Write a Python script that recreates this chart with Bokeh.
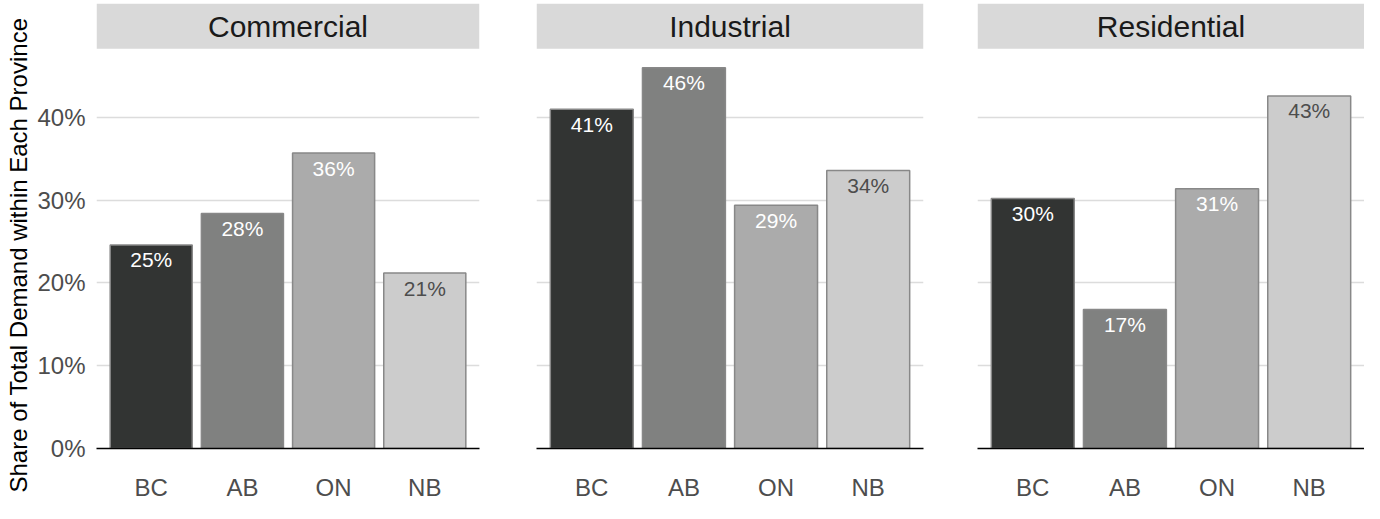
from bokeh.plotting import figure
from bokeh.layouts import row
from bokeh.models import (ColumnDataSource, FactorRange, Range1d, FixedTicker,
                          PrintfTickFormatter, Title, BoxAnnotation, Label)
from bokeh.core.properties import value
from bokeh.embed import file_html
from bokeh.resources import INLINE

# ---- data ----
panels = ["Commercial", "Industrial", "Residential"]
provinces = ["BC", "AB", "ON", "NB"]
commercial = [24.6, 28.4, 35.7, 21.2]
industrial = [41.0, 46.0, 29.4, 33.6]
residential = [30.2, 16.8, 31.4, 42.6]
y_ticks = [0, 10, 20, 30, 40]
y_title = "Share of Total Demand within Each Province"

# ---- styles / layout ----
FONT = "Liberation Sans"
bar_fills = ["#323433", "#808180", "#ababab", "#cccccc"]
label_colors = ["white", "white", "white", "#4d4d4d"]
series = [commercial, industrial, residential]

borders = [(92, 28), (29, 15), (39, 0)]   # (left, right) borders per panel
FRAME_W = 387
PANEL_H = 406      # height of the bar area (below strip)
STRIP_H = 46
TOP_B = 3
BOT_B = 48

Y_MAX = max(max(s) for s in series) * 1.05
Y_END = Y_MAX * (PANEL_H + STRIP_H) / PANEL_H

figs = []
for i, (name, vals) in enumerate(zip(panels, series)):
    bl, br = borders[i]
    W = bl + FRAME_W + br
    H = TOP_B + PANEL_H + STRIP_H + BOT_B

    src = ColumnDataSource(dict(
        prov=provinces, val=vals, fill=bar_fills, lc=label_colors,
        lab=[f"{int(v + 0.5)}%" for v in vals]))
    p = figure(width=W, height=H,
               x_range=FactorRange(*provinces, range_padding=0.05),
               y_range=Range1d(0, Y_END),
               toolbar_location=None, output_backend="svg", min_border=0,
               y_axis_location="left" if i == 0 else None)
    p.min_border_left = bl
    p.min_border_right = br
    p.min_border_top = TOP_B
    p.min_border_bottom = BOT_B
    p.outline_line_color = None
    p.background_fill_color = "white"

    # facet strip
    p.add_layout(BoxAnnotation(bottom=Y_MAX, fill_color="#d9d9d9", fill_alpha=1.0,
                               line_color=None, level="underlay"))
    p.add_layout(Label(x=len(provinces) / 2, y=(Y_MAX + Y_END) / 2, text=name,
                       text_align="center", text_baseline="middle",
                       text_font=FONT, text_font_size="30px", text_color="#1a1a1a"))

    p.xgrid.visible = False
    p.ygrid.ticker = FixedTicker(ticks=y_ticks)
    p.ygrid.grid_line_color = "#dcdcdc"
    p.ygrid.grid_line_width = 1.6

    p.vbar(x="prov", top="val", bottom=0, width=0.9, source=src,
           fill_color="fill", line_color="#888888", line_width=1.5)
    p.text(x="prov", y="val", text="lab", source=src, text_align="center",
           text_baseline="middle", y_offset=15, text_font=value(FONT),
           text_font_size="21px", text_color="lc")

    xa = p.xaxis[0]
    xa.axis_line_color = "black"
    xa.axis_line_width = 1.6
    xa.major_tick_line_color = None
    xa.minor_tick_line_color = None
    xa.major_tick_out = 0
    xa.major_tick_in = 0
    xa.major_label_standoff = 25
    xa.major_label_text_font = FONT
    xa.major_label_text_font_size = "24px"
    xa.major_label_text_color = "#4d4d4d"

    if i == 0:
        ya = p.yaxis[0]
        ya.ticker = FixedTicker(ticks=y_ticks)
        ya.formatter = PrintfTickFormatter(format="%d%%")
        ya.axis_line_color = None
        ya.major_tick_line_color = None
        ya.minor_tick_line_color = None
        ya.major_tick_out = 0
        ya.major_tick_in = 0
        ya.major_label_standoff = 11
        ya.major_label_text_font = FONT
        ya.major_label_text_font_size = "24px"
        ya.major_label_text_color = "#4d4d4d"
        p.add_layout(Title(text=y_title, align="left", offset=-44, standoff=5,
                           text_font=FONT, text_font_size="24px",
                           text_font_style="normal", text_color="black"), "left")

    figs.append(p)

layout = row(*figs, spacing=0)

open("out.html", "w").write(file_html(layout, INLINE))
